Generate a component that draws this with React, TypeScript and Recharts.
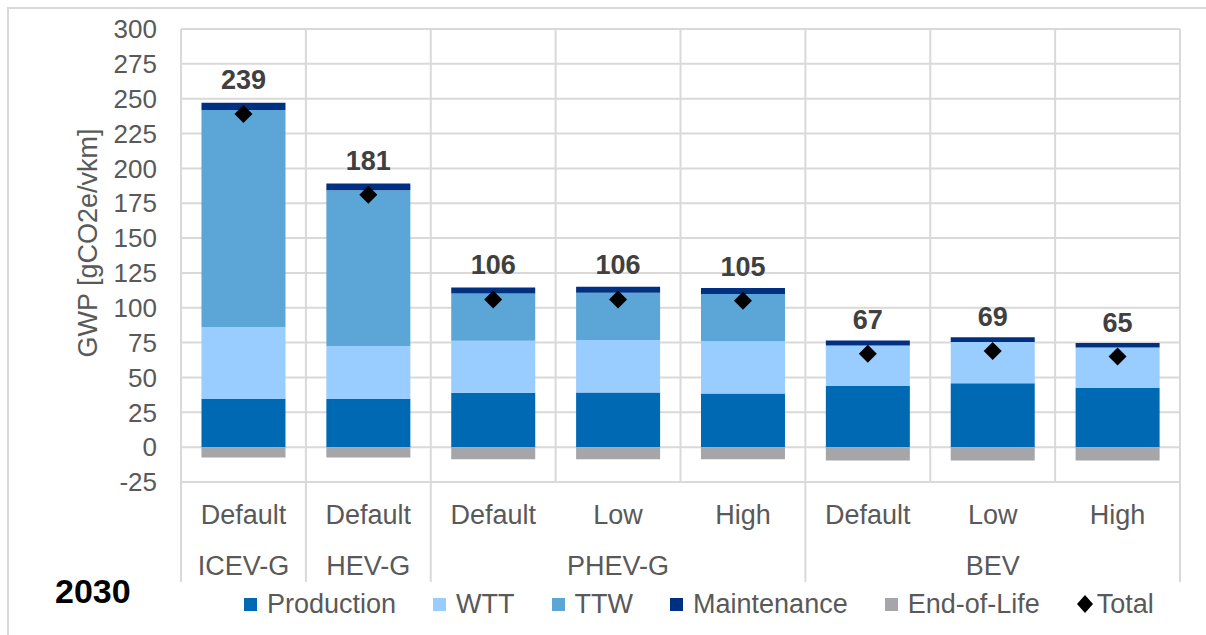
import React from 'react';
import { ComposedChart, Bar, Line, XAxis, YAxis, CartesianGrid, Legend, LabelList } from 'recharts';

// two-level categories
const variants = ['Default', 'Default', 'Default', 'Low', 'High', 'Default', 'Low', 'High'];
const vehicles = ['ICEV-G', 'HEV-G', 'PHEV-G', 'PHEV-G', 'PHEV-G', 'BEV', 'BEV', 'BEV'];

// gCO2e/vkm
const production = [34.6, 34.6, 39.0, 39.2, 38.5, 43.8, 45.9, 42.5];
const wtt = [51.5, 37.9, 37.3, 37.6, 37.5, 29.2, 29.6, 29.0];
const ttw = [155.7, 111.9, 34.0, 33.9, 33.8, 0, 0, 0];
const maintenance = [5.3, 4.8, 4.3, 4.3, 4.3, 3.5, 3.4, 3.3];
const endOfLife = [-7.4, -7.4, -8.6, -8.6, -8.6, -9.6, -9.6, -9.6];
const total = [239, 181, 106, 106, 105, 67, 69, 65];

const yTicks = [-25, 0, 25, 50, 75, 100, 125, 150, 175, 200, 225, 250, 275, 300];

const SERIES = [
  { key: 'production', name: 'Production', color: '#0069B4' },
  { key: 'wtt', name: 'WTT', color: '#99CCFF' },
  { key: 'ttw', name: 'TTW', color: '#5BA6D6' },
  { key: 'maintenance', name: 'Maintenance', color: '#003082' },
  { key: 'endOfLife', name: 'End-of-Life', color: '#A6A6AA' },
];

const data = variants.map((v, i) => ({
  key: `${vehicles[i]}-${v}-${i}`,
  production: production[i],
  wtt: wtt[i],
  ttw: ttw[i],
  maintenance: maintenance[i],
  endOfLife: endOfLife[i],
  total: total[i],
}));

const W = 1206;
const H = 635;
const TOP = 29;
const RIGHT = 26;
const Y_W = 181;
const PLOT_BOTTOM = 482;
const GROUP_LINE_BOTTOM = 582;
const PLOT_W = W - Y_W - RIGHT;
const FONT = '"Liberation Sans", Arial, sans-serif';
const GRID = '#D9D9D9';
const TEXT = '#595959';

function CategoryTick(props: any) {
  const { x, index } = props;
  const band = PLOT_W / variants.length;
  const groupStart = index === 0 || vehicles[index] !== vehicles[index - 1];
  const isLast = index === variants.length - 1;
  let groupSize = 0;
  for (let j = index; j < vehicles.length && vehicles[j] === vehicles[index]; j++) groupSize++;
  const left = x - band / 2;
  return (
    <g>
      <line x1={left} x2={left} y1={TOP} y2={groupStart ? GROUP_LINE_BOTTOM : PLOT_BOTTOM} stroke={GRID} strokeWidth={2} />
      {isLast && (
        <line x1={x + band / 2} x2={x + band / 2} y1={TOP} y2={GROUP_LINE_BOTTOM} stroke={GRID} strokeWidth={2} />
      )}
      <text x={x} y={PLOT_BOTTOM + 42} textAnchor="middle" fill={TEXT} fontSize={27} fontFamily={FONT}>
        {variants[index]}
      </text>
      {groupStart && (
        <text x={x + ((groupSize - 1) * band) / 2} y={PLOT_BOTTOM + 93} textAnchor="middle" fill={TEXT} fontSize={27} fontFamily={FONT}>
          {vehicles[index]}
        </text>
      )}
    </g>
  );
}

function Diamond(props: any) {
  const { cx, cy, index } = props;
  if (cx == null || cy == null) return <g key={index} />;
  const r = 9;
  return <polygon key={index} points={`${cx},${cy - r} ${cx + r},${cy} ${cx},${cy + r} ${cx - r},${cy}`} fill="#000" />;
}

function TotalLabel(props: any) {
  const { x, y, value } = props;
  return (
    <text x={x} y={y - 25} textAnchor="middle" fill="#404040" fontSize={27} fontWeight="bold" fontFamily={FONT}>
      {value}
    </text>
  );
}

function YTitle() {
  const cx = 88;
  const cy = 243;
  return (
    <text x={cx} y={cy} transform={`rotate(-90, ${cx}, ${cy})`} textAnchor="middle" dominantBaseline="central" fill={TEXT} fontSize={27} fontFamily={FONT}>
      GWP [gCO2e/vkm]
    </text>
  );
}

function LegendContent() {
  return (
    <div style={{ display: 'flex', alignItems: 'center', fontFamily: FONT, fontSize: 27, color: TEXT, lineHeight: '28px', whiteSpace: 'nowrap' }}>
      {SERIES.map(s => (
        <div key={s.key} style={{ display: 'flex', alignItems: 'center', marginRight: 37 }}>
          <span style={{ display: 'inline-block', width: 13, height: 13, background: s.color, marginRight: 10 }} />
          <span>{s.name}</span>
        </div>
      ))}
      <div style={{ display: 'flex', alignItems: 'center' }}>
        <svg width={16} height={18} style={{ marginRight: 4 }}>
          <polygon points="8,0 16,9 8,18 0,9" fill="#000" />
        </svg>
        <span>Total</span>
      </div>
    </div>
  );
}

export default function App() {
  return (
    <div style={{ position: 'absolute', left: 0, top: 0, width: W, height: H, overflow: 'hidden', background: '#fff' }}>
      <div style={{ position: 'absolute', left: 7, top: 7, width: W, height: H, borderLeft: `2px solid ${GRID}`, borderTop: `2px solid ${GRID}` }} />
      <ComposedChart
        width={W}
        height={H}
        data={data}
        stackOffset="sign"
        barCategoryGap="16.4%"
        margin={{ top: TOP, right: RIGHT, bottom: 0, left: 0 }}
      >
        <CartesianGrid vertical={false} stroke={GRID} strokeWidth={2} />
        <XAxis
          dataKey="key"
          height={H - PLOT_BOTTOM}
          axisLine={false}
          tickLine={false}
          interval={0}
          tick={<CategoryTick />}
        />
        <YAxis
          width={Y_W}
          domain={[-25, 300]}
          ticks={yTicks}
          interval={0}
          axisLine={false}
          tickLine={false}
          tickMargin={18}
          tick={{ fill: TEXT, fontSize: 26, fontFamily: FONT }}
          label={{ content: <YTitle /> }}
        />
        {SERIES.map(s => (
          <Bar key={s.key} dataKey={s.key} name={s.name} stackId="gwp" fill={s.color} isAnimationActive={false} />
        ))}
        <Line
          dataKey="total"
          name="Total"
          stroke="none"
          dot={<Diamond />}
          activeDot={false}
          isAnimationActive={false}
        >
          <LabelList dataKey="total" content={<TotalLabel />} />
        </Line>
        <Legend
          layout="horizontal"
          verticalAlign="middle"
          align="center"
          wrapperStyle={{ top: 590, left: 244, width: 960, height: 28 }}
          content={() => <LegendContent />}
        />
      </ComposedChart>
      <div style={{ position: 'absolute', left: 55, top: 574, fontFamily: FONT, fontWeight: 'bold', fontSize: 34, lineHeight: '34px', color: '#000' }}>
        2030
      </div>
    </div>
  );
}
